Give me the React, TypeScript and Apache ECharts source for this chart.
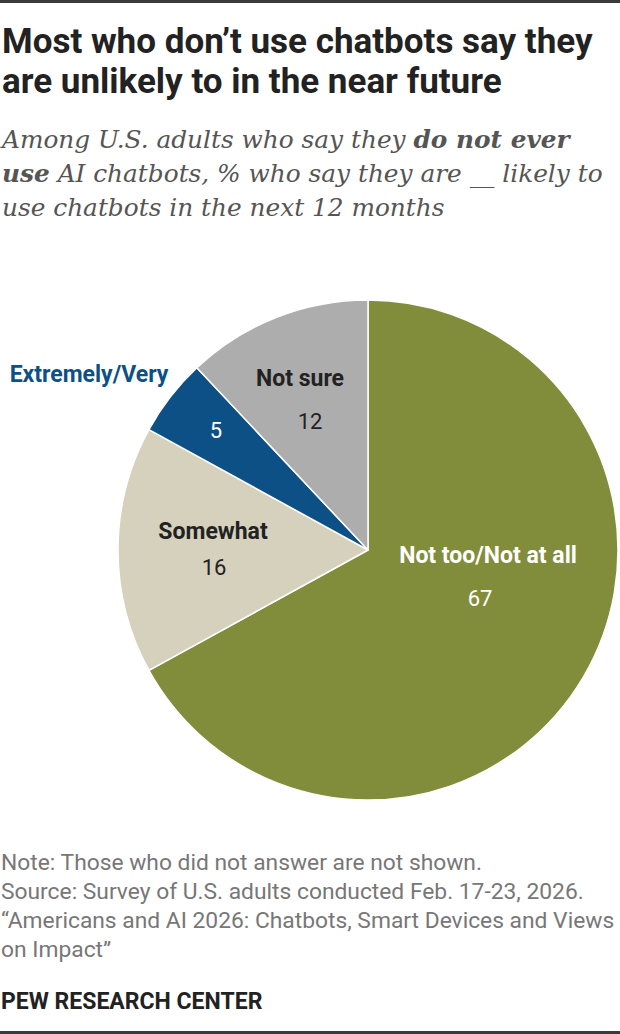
import React, { useEffect, useRef } from "react";
import * as echarts from "echarts";

// Survey responses among adults who never use AI chatbots
const categories = ["Not too/Not at all", "Somewhat", "Extremely/Very", "Not sure"];
const values = [67, 16, 5, 12];
const sliceColors = ["#818d3b", "#d5d1bc", "#0c5086", "#adadad"];

const titleLines = ["Most who don’t use chatbots say they", "are unlikely to in the near future"];
const noteLines = [
  "Note: Those who did not answer are not shown.",
  "Source: Survey of U.S. adults conducted Feb. 17-23, 2026.",
  "“Americans and AI 2026: Chatbots, Smart Devices and Views",
  "on Impact”",
];
const brand = "PEW RESEARCH CENTER";

// label placement for each slice: [x, y, lineHeight, textColor, showName, valuePadding]
const labelSpots: [number, number, number, string, boolean, number[]][] = [
  [488, 577, 43, "#ffffff", true, [0, 16, 0, 0]],
  [213, 549, 36, "#222222", true, [0, 0, 0, 2]],
  [216, 430, 22, "#ffffff", false, [0, 0, 0, 0]],
  [300, 400, 43, "#222222", true, [0, 0, 0, 20]],
];

const SANS = "Roboto, 'Noto Sans', sans-serif";
const SERIF = "'DejaVu Serif', Georgia, serif";

export default function App() {
  const ref = useRef<HTMLDivElement>(null);

  useEffect(() => {
    if (!ref.current) return;
    const chart = echarts.init(ref.current, undefined, { renderer: "svg" });

    const data = categories.map((name, i) => {
      const [, , lh, color, showName, pad] = labelSpots[i];
      return {
        name,
        value: values[i],
        itemStyle: { color: sliceColors[i] },
        label: {
          formatter: showName ? "{n|{b}}\n{v|{c}}" : "{v|{c}}",
          rich: {
            n: { fontFamily: SANS, fontWeight: 700, fontSize: 23, color, lineHeight: lh, align: "center" },
            v: { fontFamily: SANS, fontSize: 22, color, lineHeight: lh, align: "center", padding: pad },
          },
        },
      };
    });

    chart.setOption({
      animation: false,
      backgroundColor: "#ffffff",
      series: [
        {
          type: "pie",
          center: [368, 550],
          radius: [0, 250],
          startAngle: 90,
          clockwise: true,
          silent: true,
          itemStyle: { borderColor: "#ffffff", borderWidth: 1.5 },
          label: { show: true, position: "inside" },
          labelLine: { show: false },
          labelLayout: (params: any) => {
            const spot = labelSpots[params.dataIndex];
            return { x: spot[0], y: spot[1], align: "center", verticalAlign: "middle" };
          },
          data,
        },
      ],
      graphic: [
        { type: "rect", shape: { x: 0, y: 0, width: 620, height: 3 }, style: { fill: "#3a3a3a" } },
        { type: "rect", shape: { x: 0, y: 1031, width: 620, height: 3 }, style: { fill: "#3a3a3a" } },
        ...titleLines.map((t, i) => ({
          type: "text",
          x: 2,
          y: 41 + i * 40,
          style: {
            text: t,
            fontFamily: SANS,
            fontWeight: 700,
            fontSize: 35,
            fill: "#222222",
            verticalAlign: "middle",
          },
        })),
        {
          type: "text",
          x: 2,
          y: 122,
          style: {
            text:
              "{i|Among U.S. adults who say they }{b|do not ever}\n{b|use}{i| AI chatbots, % who say they are __ likely to}\n{i|use chatbots in the next 12 months}",
            fill: "#555555",
            verticalAlign: "top",
            rich: {
              i: { fontFamily: SERIF, fontStyle: "italic", fontSize: 24.8, lineHeight: 34, fill: "#555555" },
              b: {
                fontFamily: SERIF,
                fontStyle: "italic",
                fontWeight: 700,
                fontSize: 24.8,
                lineHeight: 34,
                fill: "#555555",
              },
            },
          },
        },
        {
          type: "text",
          x: 89,
          y: 374,
          style: {
            text: "Extremely/Very",
            fontFamily: SANS,
            fontWeight: 700,
            fontSize: 23,
            fill: "#0c5086",
            align: "center",
            verticalAlign: "middle",
          },
        },
        ...noteLines.map((t, i) => ({
          type: "text",
          x: 1,
          y: 862 + i * 29,
          style: {
            text: t,
            fontFamily: SANS,
            fontSize: 22.8,
            fill: "#777777",
            verticalAlign: "middle",
          },
        })),
        {
          type: "text",
          x: 1,
          y: 1001,
          style: {
            text: brand,
            fontFamily: SANS,
            fontWeight: 700,
            fontSize: 23,
            fill: "#222222",
            verticalAlign: "middle",
          },
        },
      ],
    });

    return () => chart.dispose();
  }, []);

  return (
    <div
      ref={ref}
      style={{ position: "absolute", left: 0, top: 0, width: 620, height: 1034, background: "#fff" }}
    />
  );
}
